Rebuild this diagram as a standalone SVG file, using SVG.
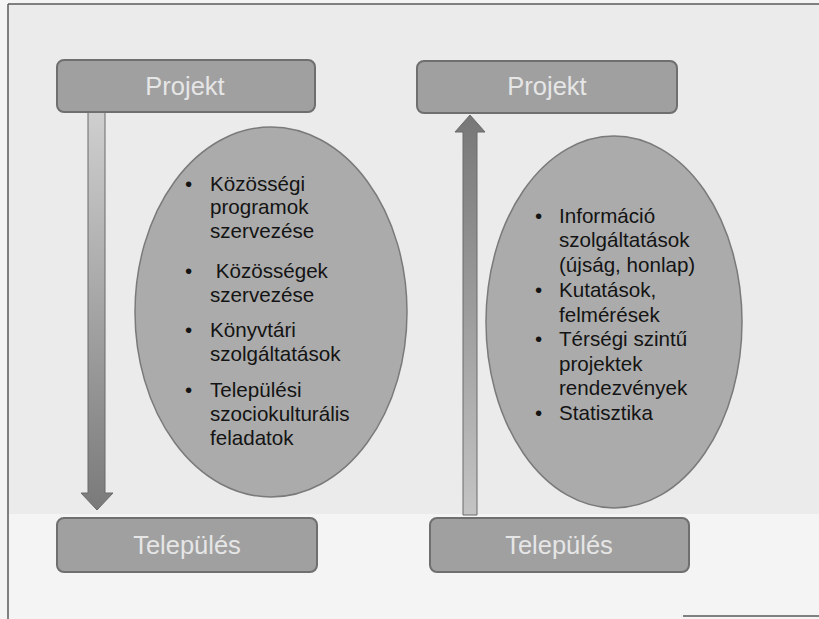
<svg xmlns="http://www.w3.org/2000/svg" width="819" height="619" viewBox="0 0 819 619">
<defs>
<style>
.box{fill:#a0a0a0;stroke:#6f6f6f;stroke-width:2}
.boxt{font-family:"Liberation Sans",Arial,sans-serif;font-size:25.5px;fill:#e6e6e6;text-anchor:middle}
.ell{fill:#ababab;stroke:#7a7a7a;stroke-width:1.5}
.lt{font-family:"Liberation Sans",Arial,sans-serif;font-size:20.6px;fill:#141414}
.arr{stroke:#6a6a6a;stroke-width:1}
</style>
<linearGradient id="shaftDown" x1="0" y1="0" x2="0" y2="1">
<stop offset="0" stop-color="#cfcfcf"/>
<stop offset="1" stop-color="#7a7a7a"/>
</linearGradient>
<linearGradient id="shaftUp" x1="0" y1="1" x2="0" y2="0">
<stop offset="0" stop-color="#c4c4c4"/>
<stop offset="1" stop-color="#777777"/>
</linearGradient>
</defs>
<rect x="0" y="0" width="819" height="619" fill="#f4f4f4"/>
<rect x="8" y="4" width="811" height="510" fill="#ebebeb"/>
<g id="frame" fill="none" stroke="#5a5a5a" stroke-width="1.5">
<line x1="8" y1="4" x2="819" y2="4"/>
<line x1="8" y1="4" x2="8" y2="619"/>
<line x1="683" y1="616" x2="819" y2="616"/>
</g>
<g id="connectors">
<path class="arr" fill="url(#shaftDown)" d="M88,112 L105,112 L105,493 L113,493 L97,510 L81,493 L88,493 Z"/>
<path class="arr" fill="url(#shaftUp)" d="M463,515 L477,515 L477,132 L485,132 L470,115 L455,132 L463,132 Z"/>
</g>
<g id="projekt-left">
<rect class="box" x="57" y="60" width="258" height="52" rx="7"/>
<text class="boxt" x="185" y="95">Projekt</text>
</g>
<g id="projekt-right">
<rect class="box" x="417" y="61" width="260" height="52" rx="7"/>
<text class="boxt" x="547" y="95">Projekt</text>
</g>
<g id="telepules-left">
<rect class="box" x="57" y="518" width="260" height="54" rx="7"/>
<text class="boxt" x="187" y="554">Település</text>
</g>
<g id="telepules-right">
<rect class="box" x="430" y="518" width="259" height="54" rx="7"/>
<text class="boxt" x="559" y="554">Település</text>
</g>
<g id="ellipse-left">
<ellipse class="ell" cx="271" cy="312" rx="136" ry="185"/>
<g class="lt">
<text x="185" y="191">•</text>
<text x="210" y="191">Közösségi</text>
<text x="210" y="214">programok</text>
<text x="210" y="238">szervezése</text>
<text x="185" y="278">•</text>
<text x="210" y="278" xml:space="preserve"> Közösségek</text>
<text x="210" y="302">szervezése</text>
<text x="185" y="337">•</text>
<text x="210" y="337">Könyvtári</text>
<text x="210" y="361">szolgáltatások</text>
<text x="185" y="397">•</text>
<text x="210" y="397">Települési</text>
<text x="210" y="421">szociokulturális</text>
<text x="210" y="445">feladatok</text>
</g>
</g>
<g id="ellipse-right">
<ellipse class="ell" cx="614" cy="322" rx="128" ry="186"/>
<g class="lt">
<text x="535" y="223">•</text>
<text x="559" y="223">Információ</text>
<text x="559" y="247">szolgáltatások</text>
<text x="559" y="272">(újság, honlap)</text>
<text x="535" y="297">•</text>
<text x="559" y="297">Kutatások,</text>
<text x="559" y="322">felmérések</text>
<text x="535" y="346">•</text>
<text x="559" y="346">Térségi szintű</text>
<text x="559" y="371">projektek</text>
<text x="559" y="395">rendezvények</text>
<text x="535" y="420">•</text>
<text x="559" y="420">Statisztika</text>
</g>
</g>
</svg>
